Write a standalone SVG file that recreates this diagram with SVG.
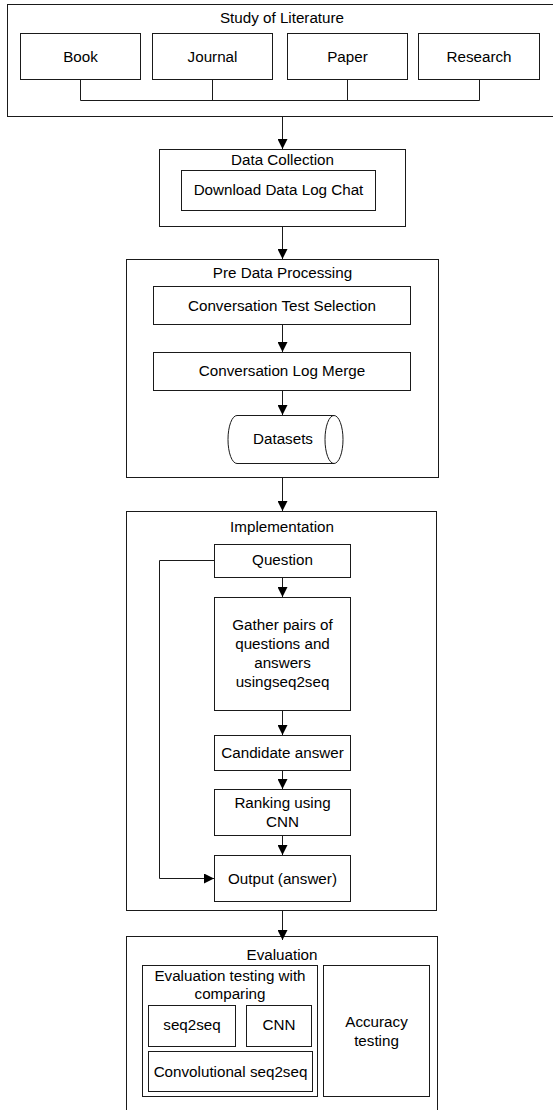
<svg xmlns="http://www.w3.org/2000/svg" width="553" height="1110" viewBox="0 0 553 1110">
  <style>
    .box { fill: #ffffff; stroke: #1a1a1a; stroke-width: 1; }
    .lbl { font-family: "Liberation Sans", Arial, sans-serif; font-size: 15.2px; fill: #000000; text-anchor: middle; }
    .wire { fill: none; stroke: #1a1a1a; stroke-width: 1; }
    .flow { fill: none; stroke: #1a1a1a; stroke-width: 1; marker-end: url(#head); }
  </style>
  <defs>
    <marker id="head" markerUnits="userSpaceOnUse" markerWidth="10" markerHeight="10" refX="10" refY="5" orient="auto">
      <path d="M0,0 L10,5 L0,10 Z" fill="#000000"/>
    </marker>
  </defs>
  <rect width="553" height="1110" fill="#ffffff"/>

  <!-- Stage 1: literature sources -->
  <g id="literature">
    <rect class="box" x="7.5" y="4.5" width="547" height="112"/>
    <text class="lbl" x="282" y="23">Study of Literature</text>
  </g>
  <g id="book">
    <rect class="box" x="20.5" y="33.5" width="120" height="46"/>
    <text class="lbl" x="80.5" y="61.5">Book</text>
  </g>
  <g id="journal">
    <rect class="box" x="152.5" y="33.5" width="120" height="46"/>
    <text class="lbl" x="212.5" y="61.5">Journal</text>
  </g>
  <g id="paper">
    <rect class="box" x="287.5" y="33.5" width="120" height="46"/>
    <text class="lbl" x="347.5" y="61.5">Paper</text>
  </g>
  <g id="research">
    <rect class="box" x="418.5" y="33.5" width="121" height="46"/>
    <text class="lbl" x="479" y="61.5">Research</text>
  </g>

  <!-- Stage 2: data collection -->
  <g id="data-collection">
    <rect class="box" x="159.5" y="149.5" width="246" height="77"/>
    <text class="lbl" x="282.5" y="165">Data Collection</text>
  </g>
  <g id="download">
    <rect class="box" x="181.5" y="170.5" width="194" height="40"/>
    <text class="lbl" x="278.5" y="195">Download Data Log Chat</text>
  </g>

  <!-- Stage 3: preprocessing -->
  <g id="pre-processing">
    <rect class="box" x="126.5" y="259.5" width="312" height="218"/>
    <text class="lbl" x="282.5" y="277.5">Pre Data Processing</text>
  </g>
  <g id="test-selection">
    <rect class="box" x="153.5" y="286.5" width="257" height="38"/>
    <text class="lbl" x="282" y="311">Conversation Test Selection</text>
  </g>
  <g id="log-merge">
    <rect class="box" x="153.5" y="352.5" width="257" height="38"/>
    <text class="lbl" x="282" y="376">Conversation Log Merge</text>
  </g>
  <g id="datasets">
    <path class="box" d="M237,415.5 L334,415.5 A9,24 0 0 1 334,463.5 L237,463.5 A9,24 0 0 1 237,415.5 Z"/>
    <path class="wire" d="M334,415.5 A9,24 0 0 0 334,463.5"/>
    <text class="lbl" x="283" y="444">Datasets</text>
  </g>

  <!-- Stage 4: implementation -->
  <g id="implementation">
    <rect class="box" x="126.5" y="511.5" width="310" height="399"/>
    <text class="lbl" x="282" y="532">Implementation</text>
  </g>
  <g id="question">
    <rect class="box" x="214.5" y="544.5" width="136" height="33"/>
    <text class="lbl" x="282.5" y="564.5">Question</text>
  </g>
  <g id="gather">
    <rect class="box" x="214.5" y="597.5" width="136" height="113"/>
    <text class="lbl" x="282.5" y="629.5">Gather pairs of</text>
    <text class="lbl" x="282.5" y="648.5">questions and</text>
    <text class="lbl" x="282.5" y="667.5">answers</text>
    <text class="lbl" x="282.5" y="686.5">usingseq2seq</text>
  </g>
  <g id="candidate">
    <rect class="box" x="214.5" y="735.5" width="136" height="35"/>
    <text class="lbl" x="282.5" y="757.5">Candidate answer</text>
  </g>
  <g id="ranking">
    <rect class="box" x="214.5" y="789.5" width="136" height="46"/>
    <text class="lbl" x="282.5" y="808">Ranking using</text>
    <text class="lbl" x="282.5" y="827">CNN</text>
  </g>
  <g id="output">
    <rect class="box" x="214.5" y="855.5" width="136" height="46"/>
    <text class="lbl" x="282.5" y="883.5">Output (answer)</text>
  </g>

  <!-- Stage 5: evaluation -->
  <g id="evaluation">
    <rect class="box" x="126.5" y="936.5" width="311" height="200"/>
    <text class="lbl" x="282" y="959.5">Evaluation</text>
  </g>
  <g id="eval-testing">
    <rect class="box" x="142.5" y="965.5" width="175" height="131"/>
    <text class="lbl" x="230" y="980.5">Evaluation testing with</text>
    <text class="lbl" x="230" y="998.5">comparing</text>
  </g>
  <g id="seq2seq">
    <rect class="box" x="148.5" y="1005.5" width="87" height="41"/>
    <text class="lbl" x="192" y="1030">seq2seq</text>
  </g>
  <g id="cnn">
    <rect class="box" x="246.5" y="1005.5" width="65" height="41"/>
    <text class="lbl" x="279" y="1030">CNN</text>
  </g>
  <g id="conv-seq2seq">
    <rect class="box" x="148.5" y="1051.5" width="164" height="40"/>
    <text class="lbl" x="230.5" y="1077">Convolutional seq2seq</text>
  </g>
  <g id="accuracy">
    <rect class="box" x="323.5" y="965.5" width="106" height="131"/>
    <text class="lbl" x="376.5" y="1027">Accuracy</text>
    <text class="lbl" x="376.5" y="1045.5">testing</text>
  </g>

  <!-- Connectors -->
  <g id="connectors">
    <path class="wire" d="M80.5,79.5 V100.5 H479.5 V79.5 M212.5,79.5 V100.5 M347.5,79.5 V100.5"/>
    <path class="flow" d="M282.5,116.5 V149"/>
    <path class="flow" d="M282.5,226.5 V259"/>
    <path class="flow" d="M282.5,324.5 V352"/>
    <path class="flow" d="M282.5,390.5 V415"/>
    <path class="flow" d="M282.5,477.5 V511"/>
    <path class="flow" d="M282.5,577.5 V597"/>
    <path class="flow" d="M282.5,710.5 V735"/>
    <path class="flow" d="M282.5,770.5 V789"/>
    <path class="flow" d="M282.5,835.5 V855"/>
    <path class="flow" d="M214.5,560.5 H159.5 V878.5 H214"/>
    <path class="flow" d="M282.5,910.5 V940"/>
  </g>
</svg>
